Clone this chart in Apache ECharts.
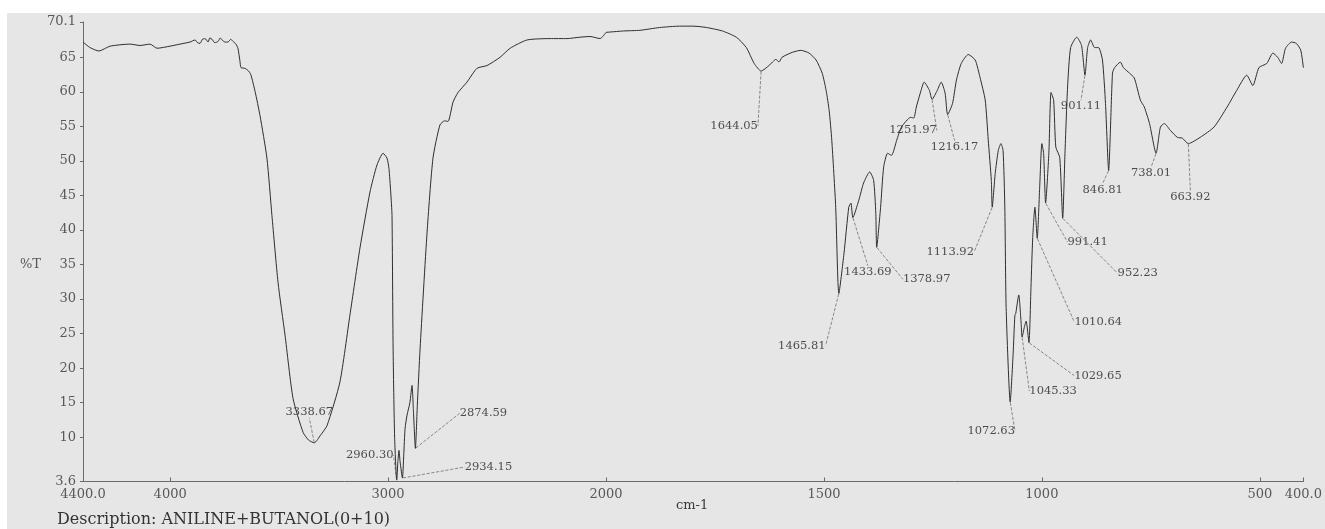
<!DOCTYPE html>
<html>
<head>
<meta charset="utf-8">
<script src="https://cdn.jsdelivr.net/npm/echarts@6/dist/echarts.min.js"></script>
<style>
html, body { margin: 0; padding: 0; background: #ffffff; }
#paper { position: absolute; left: 7px; top: 13px; right: 0; bottom: 0; background: #e6e6e6; }
#chart { position: absolute; left: 0; top: 0; width: 1325px; height: 529px; }
</style>
</head>
<body>
<div id="paper"></div>
<div id="chart"></div>
<script>
// IR spectrum: wavenumber (cm-1) against transmittance (%T)
const wavenumbers = [
  4400, 4368, 4327, 4276, 4184, 4138, 4093, 4060, 4001, 3955, 3909, 3886, 3874, 3863, 3852,
  3840, 3826, 3818, 3808, 3795, 3780, 3770, 3762, 3748, 3735, 3722, 3712, 3698, 3689, 3680,
  3675, 3657, 3640, 3630, 3610, 3588, 3556, 3533, 3505, 3473, 3436, 3390, 3365, 3338.67, 3310,
  3280, 3221, 3175, 3129, 3083, 3051, 3023, 3005, 2996, 2988, 2982, 2977, 2970, 2960.30, 2955,
  2950, 2945, 2934.15, 2928, 2922, 2913, 2900, 2890, 2884, 2874.59, 2866, 2853, 2821, 2794, 2762,
  2740, 2725, 2702, 2679, 2638, 2592, 2546, 2486, 2440, 2362, 2257, 2179, 2120, 2073, 2027,
  2000,
  1960, 1922, 1877, 1831, 1800, 1769, 1733, 1701, 1678, 1660, 1644.05, 1626, 1610, 1603, 1596,
  1573, 1553, 1534, 1518, 1504, 1495, 1488, 1482, 1473, 1465.81, 1454, 1443, 1438, 1433.69, 1420,
  1409, 1395, 1386, 1381, 1378.97, 1370, 1363, 1354, 1345, 1333, 1322, 1301, 1294, 1288, 1279,
  1270, 1258, 1251.97, 1240, 1231, 1222, 1216.17, 1205, 1196, 1185, 1169, 1153, 1142, 1130, 1123,
  1116, 1113.92, 1107, 1100, 1094, 1089, 1085, 1082, 1072.63, 1066, 1062, 1060, 1053, 1048, 1045.33,
  1040, 1036, 1029.65, 1025, 1021, 1016, 1010.64, 1005, 1000, 996, 991.41, 984, 979, 973, 968,
  959, 952.23, 947, 941, 934, 920, 909, 901.11, 895, 888, 879, 870, 861, 854, 846.81,
  838, 833, 820, 813, 799, 788, 774, 765, 753, 738.01, 728, 719, 705, 689, 678,
  663.92, 637, 605, 575, 553, 530, 516, 502, 484, 470, 459, 450, 441, 427, 416,
  406, 400
];
const transmittance = [
  67.2, 66.4, 65.9, 66.6, 66.9, 66.7, 66.9, 66.3, 66.6, 66.9, 67.2, 67.5, 67.1, 67.0, 67.6,
  67.7, 67.2, 67.8, 67.6, 67.1, 67.3, 67.8, 67.5, 67.2, 67.2, 67.6, 67.3, 66.9, 66.3, 64.5,
  63.5, 63.4, 63.0, 62.5, 60.0, 56.6, 50.4, 42.1, 32.4, 24.8, 15.6, 10.7, 9.6, 9.2, 10.3,
  11.7, 18.0, 27.7, 37.4, 45.5, 49.4, 51.1, 50.4, 48.9, 45.5, 42.1, 22.9, 10.0, 3.8, 6.5,
  8.1, 6.5, 4.1, 7.5, 11.3, 13.2, 15.0, 17.5, 14.0, 8.4, 14.5, 22.9, 39.7, 50.4, 55.2,
  55.8, 55.7, 58.5, 59.9, 61.4, 63.4, 63.8, 65.0, 66.3, 67.5, 67.7, 67.7, 67.9, 68.0, 67.7,
  68.6,
  68.8, 68.9, 69.3, 69.5, 69.5, 69.3, 68.8, 67.9, 66.4, 64.1, 63.0, 63.8, 64.7, 64.3, 65.0,
  65.7, 66.0, 65.6, 64.6, 62.7, 60.2, 57.3, 53.0, 43.3, 30.8, 36.6, 43.3, 43.9, 41.8, 44.3,
  46.8, 48.4, 47.2, 42.4, 37.5, 43.3, 49.1, 51.1, 50.8, 53.0, 54.9, 56.3, 56.2, 57.8, 59.8,
  61.4, 60.2, 58.9, 60.2, 61.4, 59.8, 56.7, 58.3, 61.7, 64.1, 65.4, 64.6, 62.1, 58.8, 53.0,
  47.2, 43.3, 48.2, 51.5, 52.5, 51.5, 43.3, 28.8, 15.1, 22.0, 27.6, 27.9, 30.6, 26.9, 24.5,
  26.0, 26.8, 23.7, 31.7, 38.9, 43.3, 38.8, 46.2, 52.5, 51.1, 43.9, 51.1, 59.9, 58.8, 52.0,
  50.5, 41.7, 51.1, 60.7, 66.4, 67.9, 66.7, 62.4, 66.4, 67.5, 66.4, 66.4, 64.6, 58.3, 48.6,
  62.7, 63.5, 64.3, 63.5, 62.7, 62.0, 58.8, 57.8, 55.4, 51.1, 54.9, 55.4, 54.4, 53.4, 53.3,
  52.5, 53.4, 54.9, 57.8, 60.2, 62.4, 60.9, 63.5, 64.1, 65.6, 65.0, 64.1, 66.3, 67.2, 67.0,
  66.0, 63.5
];
// Labelled absorption peaks (cm-1)
const peakWavenumbers = [
  3338.67, 2960.30, 2934.15, 2874.59,
  1644.05, 1465.81, 1433.69, 1378.97, 1251.97, 1216.17, 1113.92, 1072.63,
  1045.33, 1029.65, 1010.64, 991.41, 952.23, 901.11, 846.81, 738.01, 663.92
];
const yTickValues = [3.6, 10, 15, 20, 25, 30, 35, 40, 45, 50, 55, 60, 65, 70.1];
const xTicksHigh = [4400, 4000, 3000];
const xTicksLow = [2000, 1500, 1000, 500, 400];
const scaleBreak = 2000;

// Where each peak label sits relative to its peak, in pixels
const peakLabelOffset = {
  '3338.67': [-5, -31], '2960.30': [-27, -25], '2934.15': [86, -11], '2874.59': [68, -35],
  '1644.05': [-27, 55], '1465.81': [-37, 52], '1433.69': [15, 54], '1378.97': [50, 32],
  '1251.97': [-19, 31], '1216.17': [7, 32], '1113.92': [-42, 45], '1072.63': [-19, 29],
  '1045.33': [31, 54], '1029.65': [69, 33], '1010.64': [61, 84], '991.41': [42, 39],
  '952.23': [75, 55], '901.11': [-4, 31], '846.81': [-6, 19], '738.01': [-5, 20],
  '663.92': [2, 53]
};

const points = wavenumbers.map((w, i) => [w, transmittance[i]]);
const highRange = points.filter(p => p[0] >= scaleBreak);
const lowRange = points.filter(p => p[0] <= scaleBreak);
const peakPoint = w => [w, transmittance[wavenumbers.indexOf(w)]];
const highPeaks = peakWavenumbers.filter(w => w >= scaleBreak).map(peakPoint);
const lowPeaks = peakWavenumbers.filter(w => w < scaleBreak).map(peakPoint);

const serif = 'DejaVu Serif';
const axisGrey = '#6a6a6a';
const textGrey = '#585858';

function xAxisFor(gridIndex, min, max, ticks) {
  return {
    gridIndex, type: 'value', min, max, inverse: true,
    axisLine: { show: true, lineStyle: { color: axisGrey, width: 1 } },
    axisTick: { show: true, inside: true, length: 4, customValues: ticks, lineStyle: { color: axisGrey } },
    axisLabel: {
      customValues: ticks, margin: 7, fontFamily: serif, fontSize: 13, color: textGrey,
      formatter: v => (v === 4400 || v === 400) ? v.toFixed(1) : String(v)
    },
    splitLine: { show: false }
  };
}

function peakSeries(axisIndex, data) {
  return {
    type: 'scatter', xAxisIndex: axisIndex, yAxisIndex: axisIndex,
    data, symbol: 'circle', symbolSize: 1,
    itemStyle: { color: 'rgba(0,0,0,0)' },
    silent: true,
    label: {
      show: true, position: 'inside', align: 'center', verticalAlign: 'middle',
      fontFamily: serif, fontSize: 11.5, color: '#262626',
      formatter: p => p.value[0].toFixed(2)
    },
    labelLine: { show: true, lineStyle: { color: '#6f6f6f', width: 0.8, type: 'dashed' } },
    labelLayout: p => {
      const o = peakLabelOffset[data[p.dataIndex][0].toFixed(2)];
      return { dx: o[0], dy: o[1] };
    }
  };
}

const traceStyle = { color: '#2e2e2e', width: 1 };

const chart = echarts.init(document.getElementById('chart'), null, { renderer: 'canvas' });
chart.setOption({
  animation: false,
  backgroundColor: 'transparent',
  grid: [
    { left: 83, top: 22, width: 523, height: 459.5 },
    { left: 606, top: 22, width: 701, height: 459.5 }
  ],
  xAxis: [
    xAxisFor(0, scaleBreak, 4400, xTicksHigh),
    xAxisFor(1, 400, scaleBreak, xTicksLow)
  ],
  yAxis: [
    {
      gridIndex: 0, type: 'value', min: 3.6, max: 70.1,
      axisLine: { show: true, lineStyle: { color: axisGrey, width: 1 } },
      axisTick: { show: true, inside: false, length: 3, customValues: yTickValues, lineStyle: { color: axisGrey } },
      axisLabel: { customValues: yTickValues, margin: 7, fontFamily: serif, fontSize: 13, color: textGrey,
                   formatter: v => String(v) },
      splitLine: { show: false }
    },
    { gridIndex: 1, type: 'value', min: 3.6, max: 70.1, show: false, splitLine: { show: false } }
  ],
  graphic: [
    { type: 'text', left: 20, top: 258, style: { text: '%T', font: '13px "DejaVu Serif"', fill: textGrey } },
    { type: 'text', left: 676, top: 499, style: { text: 'cm-1', font: '13px "DejaVu Serif"', fill: '#3a3a3a' } },
    { type: 'text', left: 57, top: 512, style: { text: 'Description: ANILINE+BUTANOL(0+10)', font: '16px "DejaVu Serif"', fill: '#333333' } }
  ],
  series: [
    { type: 'line', xAxisIndex: 0, yAxisIndex: 0, data: highRange, showSymbol: false, smooth: 0.2,
      lineStyle: traceStyle, silent: true },
    { type: 'line', xAxisIndex: 1, yAxisIndex: 1, data: lowRange, showSymbol: false, smooth: 0.2,
      lineStyle: traceStyle, silent: true },
    peakSeries(0, highPeaks),
    peakSeries(1, lowPeaks)
  ]
});
</script>
</body>
</html>
